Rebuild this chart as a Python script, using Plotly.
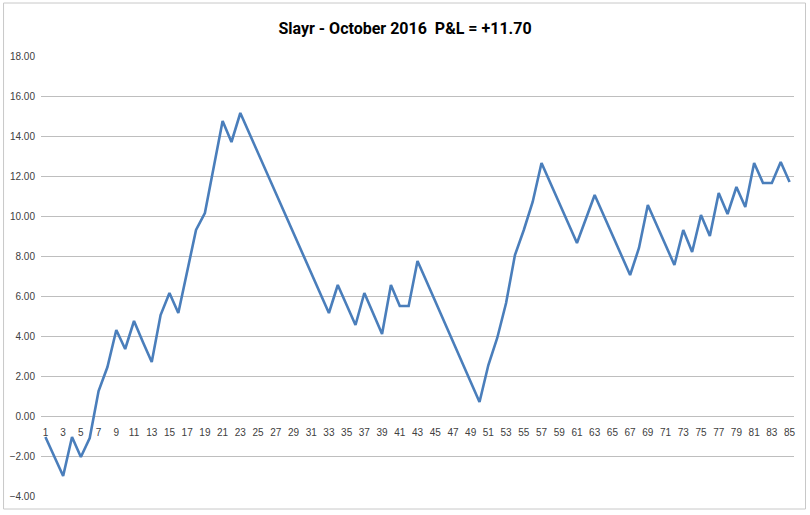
import plotly.graph_objects as go

trades = list(range(1, 86))
pnl = [
    -1.05, -2.05, -3.00, -1.05, -2.05, -1.10, 1.25, 2.45, 4.30, 3.35,
    4.75, 3.70, 2.70, 5.05, 6.15, 5.15, 7.20, 9.30, 10.15, 12.45,
    14.75, 13.70, 15.15, 14.15, 13.15, 12.15, 11.15, 10.15, 9.15, 8.15,
    7.15, 6.15, 5.15, 6.55, 5.55, 4.55, 6.15, 5.10, 4.10, 6.55,
    5.50, 5.50, 7.75, 6.75, 5.75, 4.75, 3.75, 2.75, 1.70, 0.70,
    2.55, 3.90, 5.65, 8.05, 9.30, 10.70, 12.65, 11.65, 10.65, 9.65,
    8.65, 9.85, 11.05, 10.05, 9.05, 8.05, 7.05, 8.40, 10.55, 9.55,
    8.55, 7.55, 9.30, 8.20, 10.05, 9.00, 11.15, 10.10, 11.45, 10.45,
    12.65, 11.65, 11.65, 12.70, 11.70,
]
x_tick_vals = list(range(1, 86, 2))
y_tick_vals = [-4, -2, 0, 2, 4, 6, 8, 10, 12, 14, 16, 18]
title_text = "Slayr - October 2016  P&L = +11.70"

fig = go.Figure()
fig.add_trace(go.Scatter(
    x=trades, y=pnl, mode="lines",
    line=dict(color="#4A7EBB", width=2.6),
    hoverinfo="x+y", showlegend=False,
))

fig.update_layout(
    width=810, height=515,
    margin=dict(l=40.5, r=15.5, t=56, b=19, autoexpand=False),
    paper_bgcolor="white", plot_bgcolor="white",
    title=dict(
        text="<b>" + title_text + "</b>",
        x=0.5, xanchor="center", xref="container",
        y=1 - 28 / 515, yanchor="middle",
        font=dict(family="Roboto, sans-serif", size=16, color="#000000"),
    ),
    xaxis=dict(
        range=[0.5, 85.5],
        tickmode="array", tickvals=x_tick_vals,
        ticktext=[str(v) for v in x_tick_vals],
        showgrid=False, zeroline=False,
        showline=False,
        anchor="free", position=4 / 22,
        ticks="", ticklabelstandoff=9,
        tickfont=dict(family="Liberation Sans, Arial, sans-serif", size=10, color="#404040"),
    ),
    yaxis=dict(
        range=[-4, 18],
        tickmode="array", tickvals=y_tick_vals,
        tickformat=".2f",
        showgrid=True, gridcolor="#BEBEBE", gridwidth=1,
        zeroline=True, zerolinecolor="#BEBEBE", zerolinewidth=1,
        showline=False, ticks="", ticklabelstandoff=5,
        tickfont=dict(family="Liberation Sans, Arial, sans-serif", size=10, color="#404040"),
    ),
    shapes=[dict(
        type="rect", xref="paper", yref="paper",
        x0=(3 - 40.5) / 754, x1=(806 - 40.5) / 754,
        y0=(496 - 509) / 440, y1=(496 - 3) / 440,
        line=dict(color="#C8C8C8", width=1), fillcolor="rgba(0,0,0,0)",
        layer="below",
    )],
)

fig.write_html(
    "out.html",
    config={"displayModeBar": False},
    post_script="document.body.style.margin='0';document.body.style.overflow='hidden';",
)
